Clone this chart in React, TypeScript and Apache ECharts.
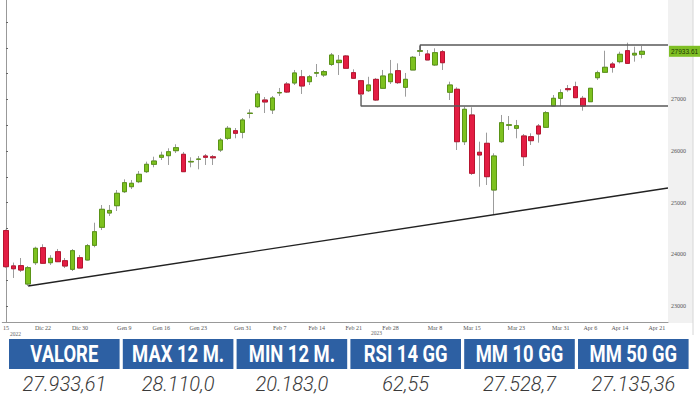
import React, { useEffect, useRef } from "react";
import * as echarts from "echarts";

// Trading days (category axis), last three without data
const dates = [
  "2022-12-15","2022-12-16","2022-12-19","2022-12-20","2022-12-21","2022-12-22","2022-12-23","2022-12-27","2022-12-28","2022-12-29","2022-12-30",
  "2023-01-02","2023-01-03","2023-01-04","2023-01-05","2023-01-06","2023-01-09","2023-01-10","2023-01-11","2023-01-12","2023-01-13","2023-01-16","2023-01-17","2023-01-18","2023-01-19","2023-01-20","2023-01-23","2023-01-24","2023-01-25","2023-01-26","2023-01-27","2023-01-30","2023-01-31",
  "2023-02-01","2023-02-02","2023-02-03","2023-02-06","2023-02-07","2023-02-08","2023-02-09","2023-02-10","2023-02-13","2023-02-14","2023-02-15","2023-02-16","2023-02-17","2023-02-20","2023-02-21","2023-02-22","2023-02-23","2023-02-24","2023-02-27","2023-02-28",
  "2023-03-01","2023-03-02","2023-03-03","2023-03-06","2023-03-07","2023-03-08","2023-03-09","2023-03-10","2023-03-13","2023-03-14","2023-03-15","2023-03-16","2023-03-17","2023-03-20","2023-03-21","2023-03-22","2023-03-23","2023-03-24","2023-03-27","2023-03-28","2023-03-29","2023-03-30","2023-03-31",
  "2023-04-03","2023-04-04","2023-04-05","2023-04-06","2023-04-11","2023-04-12","2023-04-13","2023-04-14","2023-04-17","2023-04-18","2023-04-19","2023-04-20","2023-04-21","2023-04-24"
];

const opens = [
  24460,23775,23780,23424,23837,24128,23837,24050,23876,23709,23934,
  23890,24174,24523,24800,24942,25213,25310,25407,25601,25744,25880,25911,26008,25938,25790,25841,25905,25890,26021,26248,26395,26364,
  26730,26860,26990,26797,27128,27300,27320,27440,27345,27510,27475,27680,27715,27843,27520,27364,27170,27390,27217,27345,
  27558,27236,27572,27935,27882,27669,27926,27140,27198,26182,26700,25977,26151,25246,26182,26500,26442,26293,26279,26486,26461,26874,27023,
  27210,27248,27023,26957,27422,27527,27688,27733,27946,27862,27876
];
const closes = [
  23760,23720,23695,23740,24116,23826,23922,23857,23773,24070,23734,
  24167,24438,24872,24850,25182,25388,25376,25550,25744,25808,25920,25988,26066,25601,25800,25845,25880,25870,26215,26442,26345,26603,
  26735,27107,26952,27029,27136,27145,27514,27262,27440,27520,27540,27862,27760,27605,27411,27107,27281,26990,27455,27494,
  27326,27391,27818,27945,27766,27907,27713,27281,26182,26810,25570,25924,25504,25905,26550,26510,26492,25891,26202,26331,26744,27023,27132,
  27190,27035,26874,27217,27519,27624,27624,27876,27700,27895,27934
];
const lows = [
  23740,23541,23657,23386,23793,23812,23793,23850,23734,23676,23730,
  23880,24136,24470,24742,24839,25188,25265,25380,25575,25686,25827,25731,25963,25595,25686,25647,25731,25731,25983,26215,26248,26248,
  26636,26835,26738,26719,27068,27126,27281,27107,27281,27436,27436,27649,27475,27605,27400,27087,27145,26971,27204,27300,
  27300,27055,27572,27843,27766,27649,27572,26990,26021,26118,25537,25310,25343,24762,26157,26409,26248,25711,26118,26163,26448,26874,26874,
  27150,27029,26783,26952,27378,27514,27520,27700,27688,27733,27798
];
const highs = [
  24480,23840,23928,23773,24147,24194,23983,24103,23928,24100,23987,
  24200,24612,24955,24955,25246,25453,25440,25614,25795,25891,25988,26054,26132,25983,25880,25905,25943,25924,26254,26486,26447,26641,
  26810,27165,27048,27068,27223,27339,27572,27572,27475,27688,27572,27901,27862,27862,27585,27378,27440,27417,27572,27766,
  27700,27514,27843,28040,27959,27992,27959,27345,27236,26860,26849,26182,26357,25957,26700,26680,26603,26331,26345,26525,26777,27087,27198,
  27281,27345,27068,27223,27558,27945,27727,27926,28101,28023,28037
];

// Tick labels of the date axis
const xTickDates = ["2022-12-15","2022-12-22","2022-12-30","2023-01-09","2023-01-16","2023-01-23","2023-01-31","2023-02-07","2023-02-14","2023-02-21","2023-02-28","2023-03-08","2023-03-15","2023-03-23","2023-03-31","2023-04-06","2023-04-14","2023-04-21"];
const xTickTexts = ["15","Dic 22","Dic 30","Gen 9","Gen 16","Gen 23","Gen 31","Feb 7","Feb 14","Feb 21","Feb 28","Mar 8","Mar 15","Mar 23","Mar 31","Apr 6","Apr 14","Apr 21"];
// 28000 is hidden behind the last-price tag in the reference
const yTickLabels = [23000, 24000, 25000, 26000, 27000];
const yMinorTicks = [23000, 23500, 24000, 24500, 25000, 25500, 26000, 26500, 27000, 27500, 28000, 28500];

// Drawn lines: [category index, value]
const resistanceLine = [[56, 27950], [56, 28056], [89.5, 28056]];
const supportLine = [[48, 27087], [48, 26874], [89.5, 26874]];
const trendLine = [[3, 23386], [89.5, 25285]];

const lastPrice = "27933.61";

// Table
const tableHeaders = ["VALORE", "MAX 12 M.", "MIN 12 M.", "RSI 14 GG", "MM 10 GG", "MM 50 GG"];
const tableValues = ["27.933,61", "28.110,0", "20.183,0", "62,55", "27.528,7", "27.135,36"];

export default function App() {
  const ref = useRef<HTMLDivElement>(null);
  useEffect(() => {
    if (!ref.current) return;
    const chart = echarts.init(ref.current, undefined, { renderer: "svg" });
    const bodies = opens.map((o, i) => [o, closes[i], Math.min(o, closes[i]), Math.max(o, closes[i])]);
    const wicks = opens.map((o, i) => [o, closes[i], lows[i], highs[i]]);
    const tickMap: Record<string, string> = {};
    xTickDates.forEach((d, i) => (tickMap[d] = xTickTexts[i]));

    const cellW = 110.6, gap = 3.2, x0 = 9;
    const tableGraphics: any[] = [];
    tableHeaders.forEach((h, i) => {
      const x = x0 + i * (cellW + gap);
      tableGraphics.push({
        type: "rect",
        shape: { x, y: 339, width: cellW, height: 30 },
        style: { fill: "#2d60a3" },
      });
      tableGraphics.push({
        type: "text",
        x: x + cellW / 2,
        y: 354.5,
        scaleX: 0.8,
        style: {
          text: h, fill: "#ffffff", font: "bold 23px Roboto, sans-serif",
          textAlign: "center", textVerticalAlign: "middle", verticalAlign: "middle",
        },
      });
      tableGraphics.push({
        type: "text",
        x: x + cellW / 2,
        y: 384,
        style: {
          text: tableValues[i], fill: "#3a3a3a", font: "italic 300 20px Roboto, sans-serif",
          textAlign: "center", textVerticalAlign: "middle", verticalAlign: "middle",
        },
      });
    });

    chart.setOption({
      animation: false,
      backgroundColor: "#ffffff",
      grid: { left: 0, right: 32, top: 0, bottom: 78, containLabel: false },
      xAxis: [
        {
          type: "category",
          data: dates,
          boundaryGap: true,
          axisLine: { lineStyle: { color: "#999" } },
          axisTick: { interval: 0, length: 2, lineStyle: { color: "#b0b0b0" } },
          axisLabel: {
            interval: (_i: number, v: string) => v in tickMap,
            formatter: (v: string) => tickMap[v] || "",
            fontSize: 6,
            color: "#555",
            margin: 3,
            fontFamily: "Liberation Serif",
          },
          splitLine: { show: false },
        },
        { type: "value", min: -0.5, max: 89.5, show: false },
      ],
      yAxis: {
        type: "value",
        position: "right",
        min: 22688,
        max: 28928,
        axisLine: { show: true, lineStyle: { color: "#999" } },
        axisTick: { show: true, customValues: yMinorTicks, length: 2, lineStyle: { color: "#666" } },
        axisLabel: {
          customValues: yTickLabels,
          formatter: (v: number) => String(v),
          fontSize: 6,
          color: "#555",
          margin: 3,
          fontFamily: "Liberation Serif",
        },
        splitLine: { show: false },
      },
      graphic: [
        { type: "rect", z: -1, shape: { x: 668, y: 0, width: 25, height: 323 }, style: { fill: "#f1f1f1" } },
        { type: "line", shape: { x1: 693, y1: 0, x2: 693, y2: 335 }, style: { stroke: "#d6d6d6", lineWidth: 1 } },
        { type: "text", x: 10, y: 331, style: { text: "2022", fill: "#666", font: "5.5px 'Liberation Serif'" } },
        { type: "text", x: 371, y: 330, style: { text: "2023", fill: "#666", font: "5.5px 'Liberation Serif'" } },
        ...tableGraphics,
      ],
      series: [
        {
          type: "candlestick",
          name: "wicks",
          data: wicks,
          barWidth: 5,
          itemStyle: { color: "transparent", color0: "transparent", borderColor: "#9c9c9c", borderColor0: "#9c9c9c", borderWidth: 1 },
        },
        {
          type: "candlestick",
          name: "bodies",
          data: bodies,
          barWidth: 5,
          itemStyle: { color: "#7dc11f", color0: "#e31d43", borderColor: "#5a9416", borderColor0: "#b8142f", borderWidth: 1 },
        },
        {
          type: "line", xAxisIndex: 1, data: resistanceLine, symbol: "none",
          lineStyle: { color: "#5a5a5a", width: 1.4 }, silent: true,
        },
        {
          type: "line", xAxisIndex: 1, data: supportLine, symbol: "none",
          lineStyle: { color: "#5a5a5a", width: 1.4 }, silent: true,
        },
        {
          type: "line", xAxisIndex: 1, data: trendLine, symbol: "none",
          lineStyle: { color: "#222", width: 1.4 }, silent: true,
          markLine: {
            silent: true,
            symbol: "none",
            z: 10,
            lineStyle: { color: "transparent", width: 0 },
            data: [{ yAxis: closes[closes.length - 1] }],
            label: {
              show: true,
              position: "end",
              distance: 1,
              formatter: lastPrice,
              backgroundColor: "#7fbf25",
              color: "#1d3800",
              fontSize: 6.5,
              padding: [2, 2, 2, 2],
            },
          },
        },
      ],
    });
    return () => chart.dispose();
  }, []);
  return (
    <div
      ref={ref}
      style={{ position: "fixed", left: 0, top: 0, width: 700, height: 400, background: "#fff" }}
    />
  );
}
